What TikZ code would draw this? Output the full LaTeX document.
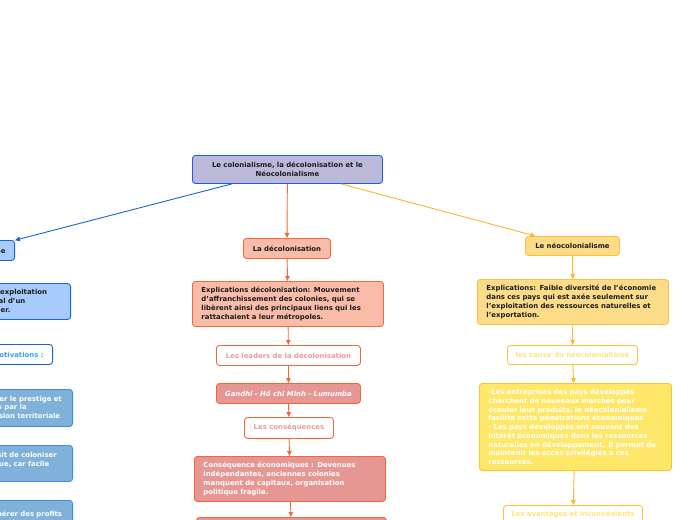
\documentclass[tikz,border=0pt]{standalone}
\usepackage{fontspec}
\setmainfont{DejaVu Sans}
\usetikzlibrary{arrows.meta}

\definecolor{bleu}{HTML}{1B62D4}
\definecolor{lavande}{HTML}{BDB9DB}
\definecolor{bleuClair}{HTML}{A8CBFD}
\definecolor{bleuTexte}{HTML}{34A3EC}
\definecolor{acier}{HTML}{7FB1DA}
\definecolor{acierBord}{HTML}{3C8DE3}
\definecolor{rouge}{HTML}{F26839}
\definecolor{saumon}{HTML}{F8BCA8}
\definecolor{rose}{HTML}{E69794}
\definecolor{roseTexte}{HTML}{EB9B9B}
\definecolor{jaune}{HTML}{FCC233}
\definecolor{jauneFleche}{HTML}{FCB52C}
\definecolor{ocre}{HTML}{FDDC89}
\definecolor{citron}{HTML}{FFE76A}
\definecolor{jauneTexte}{HTML}{FFE47C}
\definecolor{texte}{HTML}{1C1C1C}

\begin{document}
\begin{tikzpicture}[
      x=1pt, y=-1pt,
      bloc/.style={draw, rounded corners=3pt, line width=0.9pt, inner xsep=9pt,
                   inner ysep=0pt, anchor=north west, align=left, text=texte,
                   font=\fontsize{6.9}{8.7}\selectfont\bfseries},
      etiquette/.style={bloc, align=center, inner xsep=2pt},
      fleche/.style={-{Triangle[length=5pt,width=4.5pt]}, line width=0.9pt}
    ]
      \useasboundingbox (0,0) rectangle (697,520);

      % Racine
      \node[bloc, fill=lavande, draw=bleu, align=center, text width=172pt,
            minimum height=28pt] (racine) at (192,155)
            {Le colonialisme, la décolonisation et le\\Néocolonialisme};

      % Colonne gauche : le colonialisme
      \node[bloc, fill=bleuClair, draw=bleu, anchor=north east,
            minimum height=20pt] (colo) at (15,240) {Le colonialisme};
      \node[bloc, fill=bleuClair, draw=bleu, anchor=north east, text width=208pt,
            minimum height=36pt] (coloexp) at (71,283)
            {Explications: Le colonialisme est une exploitation\\
             économique, territoriale et commercial d’un\\
             territoire par un puissant pays étranger.};
      \node[bloc, fill=white, draw=bleu, text=bleuTexte, anchor=north east,
            minimum height=20pt] (motiv) at (53,344) {Les motivations :};
      \node[bloc, fill=acier, draw=acierBord, text=white, anchor=north east,
            text width=142pt, minimum height=37pt] (motA) at (73,389)
            {Politique : augmenter le prestige et\\
             la puissance du pays par la\\
             conquête et l’expansion territoriale};
      \node[bloc, fill=acier, draw=acierBord, text=white, anchor=north east,
            text width=137pt, minimum height=36pt] (motB) at (73,445)
            {Stratégique : choisit de coloniser\\
             les côtes de l’Afrique, car facile\\
             d’accès.};
      \node[bloc, fill=acier, draw=acierBord, text=white, anchor=north east,
            text width=136pt, minimum height=44pt] (motC) at (73,500)
            {Économiques : générer des profits\\
             considérables et de développer\\
             l’industrie.};

      % Colonne centrale : la décolonisation
      \node[etiquette, fill=saumon, draw=rouge, minimum width=87pt,
            minimum height=20pt] (deco) at (243,238) {La décolonisation};
      \node[bloc, fill=saumon, draw=rouge, text width=173pt,
            minimum height=45pt] (decoexp) at (192,281)
            {Explications décolonisation: Mouvement\\
             d’affranchissement des colonies, qui se\\
             libèrent ainsi des principaux liens qui les\\
             rattachaient a leur métropoles.};
      \node[etiquette, fill=white, draw=rouge, text=roseTexte,
            minimum width=144pt, minimum height=20pt] (leaders) at (216,345)
            {Les leaders de la décolonisation};
      \node[etiquette, fill=rose, draw=rouge, text=white,
            minimum width=144pt, minimum height=20pt,
            font=\fontsize{6.9}{8.7}\selectfont\bfseries\itshape]
            (gandhi) at (216,383) {Gandhi - Hồ chi Minh - Lumumba};
      \node[etiquette, fill=white, draw=rouge, text=roseTexte,
            minimum width=89pt, minimum height=21pt] (conseq) at (244,417)
            {Les conséquences};
      \node[bloc, fill=rose, draw=rouge, text=white, text width=173pt,
            minimum height=45pt] (eco) at (194,456)
            {Conséquence économiques : Devenues\\
             indépendantes, anciennes colonies\\
             manquent de capitaux, organisation\\
             politique fragile.};
      \node[bloc, fill=rose, draw=rouge, text width=172pt,
            minimum height=40pt] (suite) at (196,517) {};

      % Colonne droite : le néocolonialisme
      \node[etiquette, fill=ocre, draw=jaune, minimum width=94pt,
            minimum height=19pt] (neo) at (525,236) {Le néocolonialisme};
      \node[bloc, fill=ocre, draw=jaune, text width=173pt,
            minimum height=45pt] (neoexp) at (477,279)
            {Explications: Faible diversité de l’économie\\
             dans ces pays qui est axée seulement sur\\
             l’exploitation des ressources naturelles et\\
             l’exportation.};
      \node[etiquette, fill=white, draw=jaune, text=jauneTexte,
            minimum width=130pt, minimum height=19pt] (cause) at (507,345)
            {les cause du néocolonialisme};
      \node[bloc, fill=citron, draw=jaune, text=white, text width=174pt,
            minimum height=87pt] (raisons) at (479,383)
            {-Les entreprises des pays développés\\
             cherchent de nouveaux marchés pour\\
             écouler leur produits, le néocolonialisme\\
             facilite cette pénétrations économiques\\
             - Les pays développés ont souvent des\\
             intérêt économiques dans les ressources\\
             naturelles en développement. Il permet de\\
             maintenir les accès privilégiés a ces\\
             ressources.};
      \node[etiquette, fill=white, draw=jaune, text=jauneTexte,
            minimum width=139pt, minimum height=19pt] (avant) at (503,505)
            {Les avantages et inconvénients};

      % Liens
      \draw[fleche, bleu] (racine) -- (colo);
      \draw[fleche, rouge] (racine) -- (deco);
      \draw[fleche, jauneFleche] (racine) -- (neo);
      \foreach \a/\b in {deco/decoexp, decoexp/leaders, leaders/gandhi,
                         gandhi/conseq, conseq/eco, eco/suite}
        \draw[fleche, rouge] (\a) -- (\b);
      \foreach \a/\b in {neo/neoexp, neoexp/cause, cause/raisons, raisons/avant}
        \draw[fleche, jauneFleche] (\a) -- (\b);
\end{tikzpicture}
\end{document}
